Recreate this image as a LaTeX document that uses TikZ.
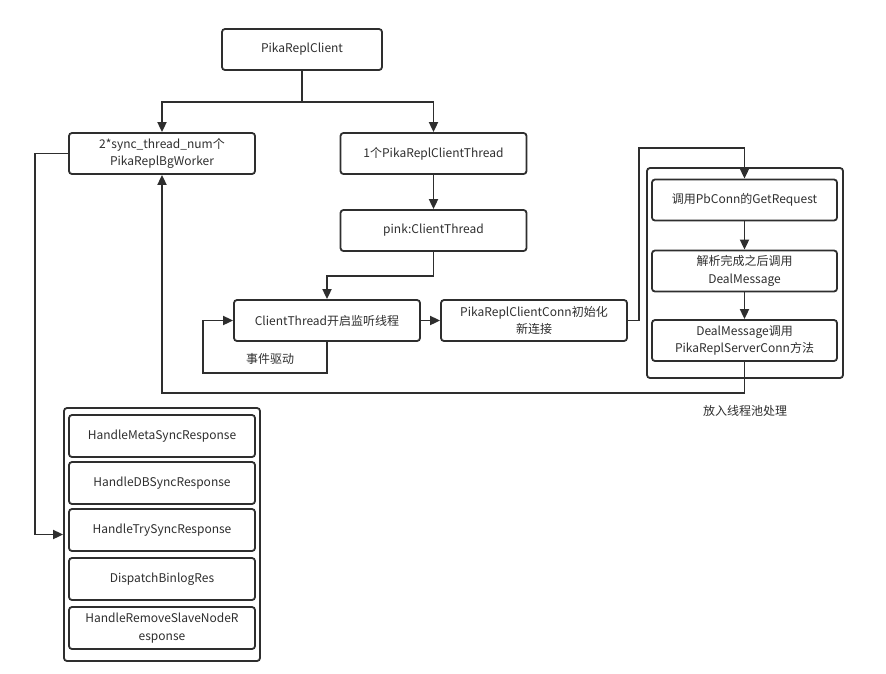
\documentclass[tikz,border=0pt]{standalone}
\usepackage{fontspec}
\setmainfont{Noto Sans CJK SC}
\usetikzlibrary{positioning,calc,arrows.meta}

\begin{document}
\begin{tikzpicture}[x=1pt, y=-1pt, line width=1.8pt, color=black!82,
    box/.style={draw, rounded corners=3pt, minimum width=186pt, minimum height=41pt, align=center, inner sep=2pt, font=\fontsize{12}{17.5}\selectfont},
    frame/.style={draw, rounded corners=3pt},
    note/.style={font=\fontsize{12}{15}\selectfont},
    arr/.style={-{Triangle[length=10pt,width=9pt]}}]
    \useasboundingbox (0,0) rectangle (886,673);

    % top of the tree
    \node[box, minimum width=160pt] (client) at (302,49.5) {PikaReplClient};
    \node[box] (worker) at (162,153.5) {2*sync\_thread\_num个\\PikaReplBgWorker};
    \node[box] (thread) at (433.5,153.5) {1个PikaReplClientThread};
    \node[box] (pink) at (433.5,230.5) {pink:ClientThread};
    \node[box] (listen) at (327,320.5) {ClientThread开启监听线程};
    \node[box] (conn) at (534,320.5) {PikaReplClientConn初始化\\新连接};

    % thread pool
    \node[frame, minimum width=196pt, minimum height=210pt] (pool) at (745,273) {};
    \node[box, minimum width=185pt] (getreq) at (744.5,200) {调用PbConn的GetRequest};
    \node[box, minimum width=185pt] (dealmsg) at (744.5,271) {解析完成之后调用\\DealMessage};
    \node[box, minimum width=185pt] (server) at (744.5,340.5) {DealMessage调用\\PikaReplServerConn方法};
    \node[note] (poolnote) at (745,411) {放入线程池处理};

    % handlers
    \node[frame, minimum width=196pt, minimum height=253pt] (handlers) at (162,534.5) {};
    \node[box, minimum height=42pt] (meta) at (162,436) {HandleMetaSyncResponse};
    \node[box, minimum height=42pt] (dbsync) at (162,483) {HandleDBSyncResponse};
    \node[box, minimum height=42pt] (trysync) at (162,530) {HandleTrySyncResponse};
    \node[box, minimum height=42pt] (binlog) at (162,579) {DispatchBinlogRes};
    \node[box, minimum height=42pt] (remove) at (162,628) {HandleRemoveSlaveNodeR\\esponse};

    \node[note] (evt) at (270,359) {事件驱动};

    % connectors
    \draw[arr] (client.south) -- ++(0,31) -| (worker.north);
    \draw[arr] (client.south) -- ++(0,31) -| (thread.north);
    \draw[arr] (thread) -- (pink);
    \draw[arr] (pink.south) -- ++(0,24) -| (listen.north);
    \draw[arr] (listen) -- (conn);
    \coordinate (loopback) at ($(listen.west)+(-30,0)$);
    \draw[arr] (listen.south) -- ++(0,31) -| (loopback) -- (listen.west);
    \draw[arr] (conn.east) -- ++(11,0) |- ($(getreq.north)+(0,-31)$) -- (getreq.north);
    \draw[arr] (getreq) -- (dealmsg);
    \draw[arr] (dealmsg) -- (server);
    \draw[arr] (server.south) -- ++(0,31) -| (worker.south);
    \draw[arr] (worker.west) -- ++(-33,0) |- (handlers.west);
\end{tikzpicture}
\end{document}
